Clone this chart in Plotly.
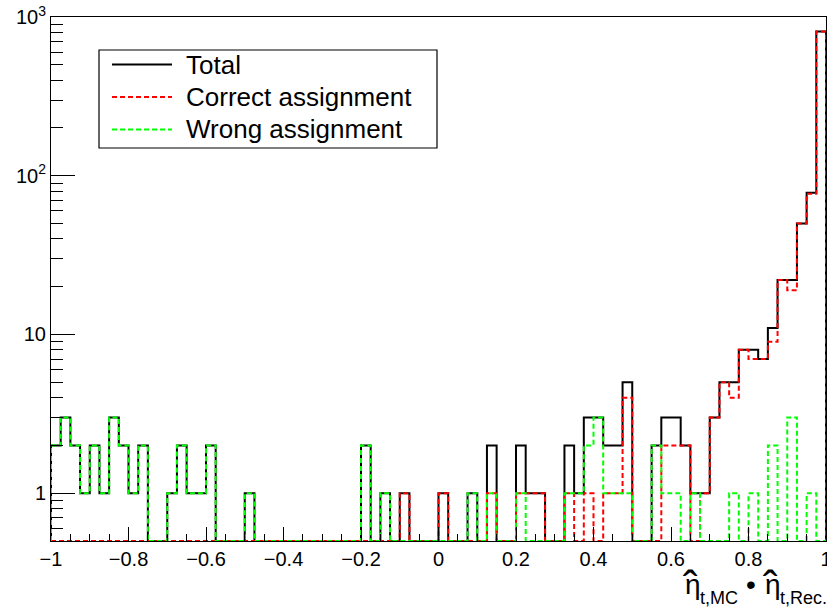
import numpy as np
import plotly.graph_objects as go

# Histogram binning: 80 bins on [-1, 1]
x_lo, x_hi, n_bins = -1.0, 1.0, 80

# Bin contents (events per bin)
total = [2, 3, 2, 1, 2, 1, 3, 2, 1, 2,
         0, 0, 1, 2, 1, 1, 2, 0, 0, 0,
         1, 0, 0, 0, 0, 0, 0, 0, 0, 0,
         0, 0, 2, 0, 1, 0, 1, 0, 0, 0,
         1, 0, 0, 1, 0, 2, 0, 0, 2, 1,
         1, 0, 0, 2, 1, 3, 3, 2, 2, 5,
         0, 0, 2, 3, 3, 2, 1, 1, 3, 5,
         5, 8, 8, 7, 11, 22, 22, 50, 78, 810]
correct = [0, 0, 0, 0, 0, 0, 0, 0, 0, 0,
           0, 0, 0, 0, 0, 0, 0, 0, 0, 0,
           0, 0, 0, 0, 0, 0, 0, 0, 0, 0,
           0, 0, 0, 0, 0, 0, 1, 0, 0, 0,
           1, 0, 0, 0, 0, 1, 0, 0, 1, 1,
           1, 0, 0, 1, 0, 1, 0, 1, 1, 4,
           0, 0, 0, 2, 2, 2, 0, 1, 3, 5,
           4, 8, 7, 7, 9, 22, 19, 50, 77, 810]
wrong = [2, 3, 2, 1, 2, 1, 3, 2, 1, 2,
         0, 0, 1, 2, 1, 1, 2, 0, 0, 0,
         1, 0, 0, 0, 0, 0, 0, 0, 0, 0,
         0, 0, 2, 0, 1, 0, 0, 0, 0, 0,
         0, 0, 0, 1, 0, 1, 0, 0, 1, 0,
         0, 0, 0, 1, 1, 2, 3, 1, 1, 1,
         0, 0, 2, 1, 1, 0, 1, 0, 0, 0,
         1, 0, 1, 0, 2, 0, 3, 0, 1, 0]

series_names = ["Total", "Correct assignment", "Wrong assignment"]

# y range of the log axis; empty bins are drawn on the lower edge
y_min, y_max = 0.5, 1000.0
y_major = [1, 10, 100, 1000]
y_major_text = ["1", "10", "10<sup>2</sup>", "10<sup>3</sup>"]
y_minor = [0.6, 0.7, 0.8, 0.9] + [m * d for d in (1, 10, 100) for m in range(2, 10)]

edges = np.linspace(x_lo, x_hi, n_bins + 1)


def step_xy(counts):
    c = np.asarray(counts, dtype=float)
    c = np.where(c > 0, c, y_min)
    xs = np.r_[edges[0], edges[:-1], edges[-1], edges[-1]]
    ys = np.r_[y_min, c, c[-1], y_min]
    return xs, ys


styles = [
    dict(color="#000000", width=2, dash="solid"),
    dict(color="#ff0000", width=2, dash="5px,3px"),
    dict(color="#00ff00", width=2, dash="5px,3px"),
]

fig = go.Figure()
for name, counts, st in zip(series_names, [total, correct, wrong], styles):
    xs, ys = step_xy(counts)
    fig.add_trace(go.Scatter(x=xs, y=ys, mode="lines", line_shape="hv",
                             line=st, name=name, showlegend=False,
                             hoverinfo="skip"))

# Plot-area geometry in pixels (for the hand-placed legend and axis title)
W, H = 827, 608
L, R, T, B = 51, 1, 17, 67
pw, ph = W - L - R, H - T - B


def px_x(p):
    return (p - L) / pw


def px_y(p):
    return (H - B - p) / ph


font = "Liberation Sans, Arial, Helvetica, sans-serif"

shapes = [dict(type="rect", xref="paper", yref="paper",
               x0=px_x(99), x1=px_x(437), y0=px_y(148), y1=px_y(50),
               line=dict(color="#000000", width=1.2), fillcolor="white", layer="above")]
annotations = []
for i, (name, st) in enumerate(zip(series_names, styles)):
    yy = 64.5 + i * 32.5
    shapes.append(dict(type="line", xref="paper", yref="paper",
                       x0=px_x(112), x1=px_x(172), y0=px_y(yy), y1=px_y(yy),
                       line=st, layer="above"))
    annotations.append(dict(text=name, xref="paper", yref="paper",
                            x=px_x(184), y=px_y(yy), xanchor="left", yanchor="middle",
                            showarrow=False, font=dict(family=font, size=26, color="#000000")))


def label(text, x, y, size, xanchor="left"):
    annotations.append(dict(text=text, xref="paper", yref="paper",
                            x=px_x(x), y=px_y(y), xanchor=xanchor, yanchor="middle",
                            showarrow=False,
                            font=dict(family=font, size=size, color="#000000")))


# x-axis title: hat(eta)_{t,MC} . hat(eta)_{t,Rec.}
label("η", 683, 584, 28)
label("\u02c6", 690, 586, 44, xanchor="center")
label("t,MC", 698, 598, 18)
label("•", 751, 584, 28, xanchor="center")
label("η", 763, 584, 28)
label("\u02c6", 770, 586, 44, xanchor="center")
label("t,Rec.", 778, 598, 18)

fig.update_layout(
    width=W, height=H,
    margin=dict(l=L, r=R, t=T, b=B, autoexpand=False),
    paper_bgcolor="white", plot_bgcolor="white",
    font=dict(family=font, size=20, color="#000000"),
    shapes=shapes, annotations=annotations,
    showlegend=False,
)
fig.update_xaxes(
    range=[x_lo, x_hi], dtick=0.2, tick0=0, automargin=False,
    showgrid=False, zeroline=False,
    showline=True, mirror=True, linecolor="#000000", linewidth=1,
    ticks="inside", ticklen=14, tickwidth=1, tickcolor="#000000",
    minor=dict(dtick=0.05, tick0=0, ticks="inside", ticklen=7, tickcolor="#000000"),
    tickfont=dict(size=20), ticklabeloverflow="allow",
)
fig.update_yaxes(
    type="log", range=[np.log10(y_min), np.log10(y_max)], automargin=False,
    tickmode="array", tickvals=y_major, ticktext=y_major_text,
    showgrid=False, zeroline=False,
    showline=True, mirror=True, linecolor="#000000", linewidth=1,
    ticks="inside", ticklen=24, tickwidth=1, tickcolor="#000000",
    minor=dict(tickmode="array", tickvals=y_minor, ticks="inside", ticklen=12,
               tickcolor="#000000"),
    tickfont=dict(size=20), ticklabeloverflow="allow",
)

fig.write_html("out.html")
